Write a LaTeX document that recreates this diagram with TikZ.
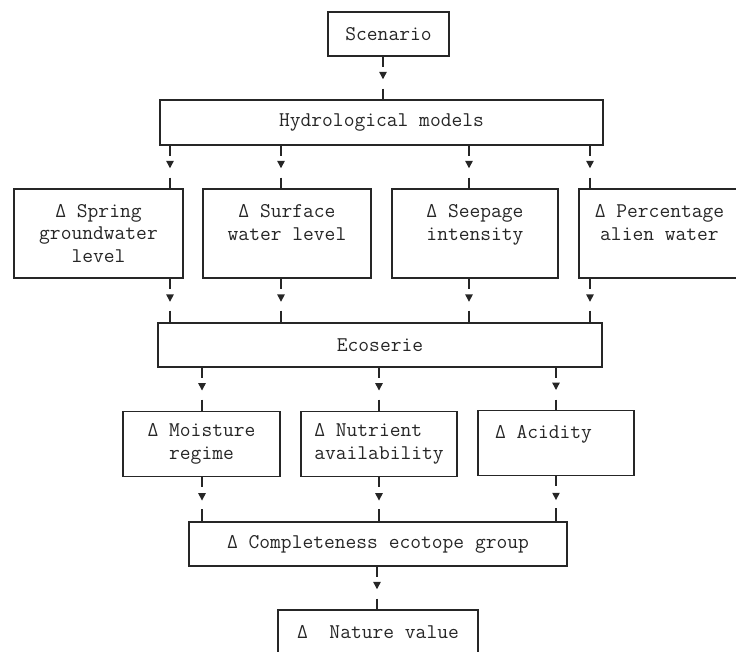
\documentclass[tikz,border=0pt]{standalone}
\usepackage{fontspec}
\usetikzlibrary{arrows.meta, decorations.markings}

\begin{document}
\begin{tikzpicture}[
        x=0.75pt, y=-0.75pt,
        block/.style={draw=black!85, line width=1.1pt, rectangle, align=center, inner sep=4pt,
            font=\ttfamily\fontsize{15.7}{16.9}\selectfont, text=black!85, minimum height=33pt},
        tall/.style={block, minimum height=66.75pt},
        mid/.style={block, minimum height=48.75pt},
        flow/.style={draw=black!85, line width=1pt, dash pattern=on 7.5pt off 16.5pt on 40pt,
            decoration={markings, mark=at position 0.53 with {\arrow{Triangle[length=5.5pt, width=5.5pt]}}},
            postaction=decorate}
    ]
        \useasboundingbox (0,0) rectangle (736,652);

        \node[block, minimum width=90.75pt]  (scen)  at (388.5,34)  {Scenario};
        \node[block, minimum width=332.25pt, minimum height=33.75pt] (hydro) at (381.5,122.5) {Hydrological models};

        \node[tall, minimum width=126.75pt] (spring)  at (98.5,233.5)  {Δ Spring\\groundwater\\level};
        \node[tall, minimum width=126pt]    (surface) at (287,233.5)   {Δ Surface\\water level\\~};
        \node[tall, minimum width=124.5pt]  (seepage) at (475,233.5)   {Δ Seepage\\intensity\\~};
        \node[tall, minimum width=120.75pt] (alien)   at (659.5,233.5) {Δ Percentage\\alien water\\~};

        \node[block, minimum width=333pt] (eco) at (380,345) {Ecoserie};

        \node[mid, minimum width=117.75pt] (moist) at (201.5,444) {Δ Moisture\\regime};
        \node[mid, minimum width=117pt, align=flush left] (nutr) at (379,444) {Δ Nutrient\\availability};
        \node[mid, minimum width=117pt, align=flush left, text width=91.5pt] (acid) at (556,443) {Δ Acidity\\~};

        \node[block, minimum width=283.5pt] (compl)  at (378,544) {Δ Completeness ecotope group};
        \node[block, minimum width=150pt]   (nature) at (378,632) {Δ\ \ Nature value};

        \draw[flow] (scen.south -| 383,0) -- (hydro.north -| 383,0);
        \foreach \n/\x in {spring/170, surface/281, seepage/469, alien/590} {
            \draw[flow] (hydro.south -| \x,0) -- (\n.north -| \x,0);
            \draw[flow] (\n.south -| \x,0) -- (eco.north -| \x,0);
        }
        \foreach \n/\x in {moist/202, nutr/379, acid/556} {
            \draw[flow] (eco.south -| \x,0) -- (\n.north -| \x,0);
            \draw[flow] (\n.south -| \x,0) -- (compl.north -| \x,0);
        }
        \draw[flow] (compl.south -| 377,0) -- (nature.north -| 377,0);
    \end{tikzpicture}
\end{document}
